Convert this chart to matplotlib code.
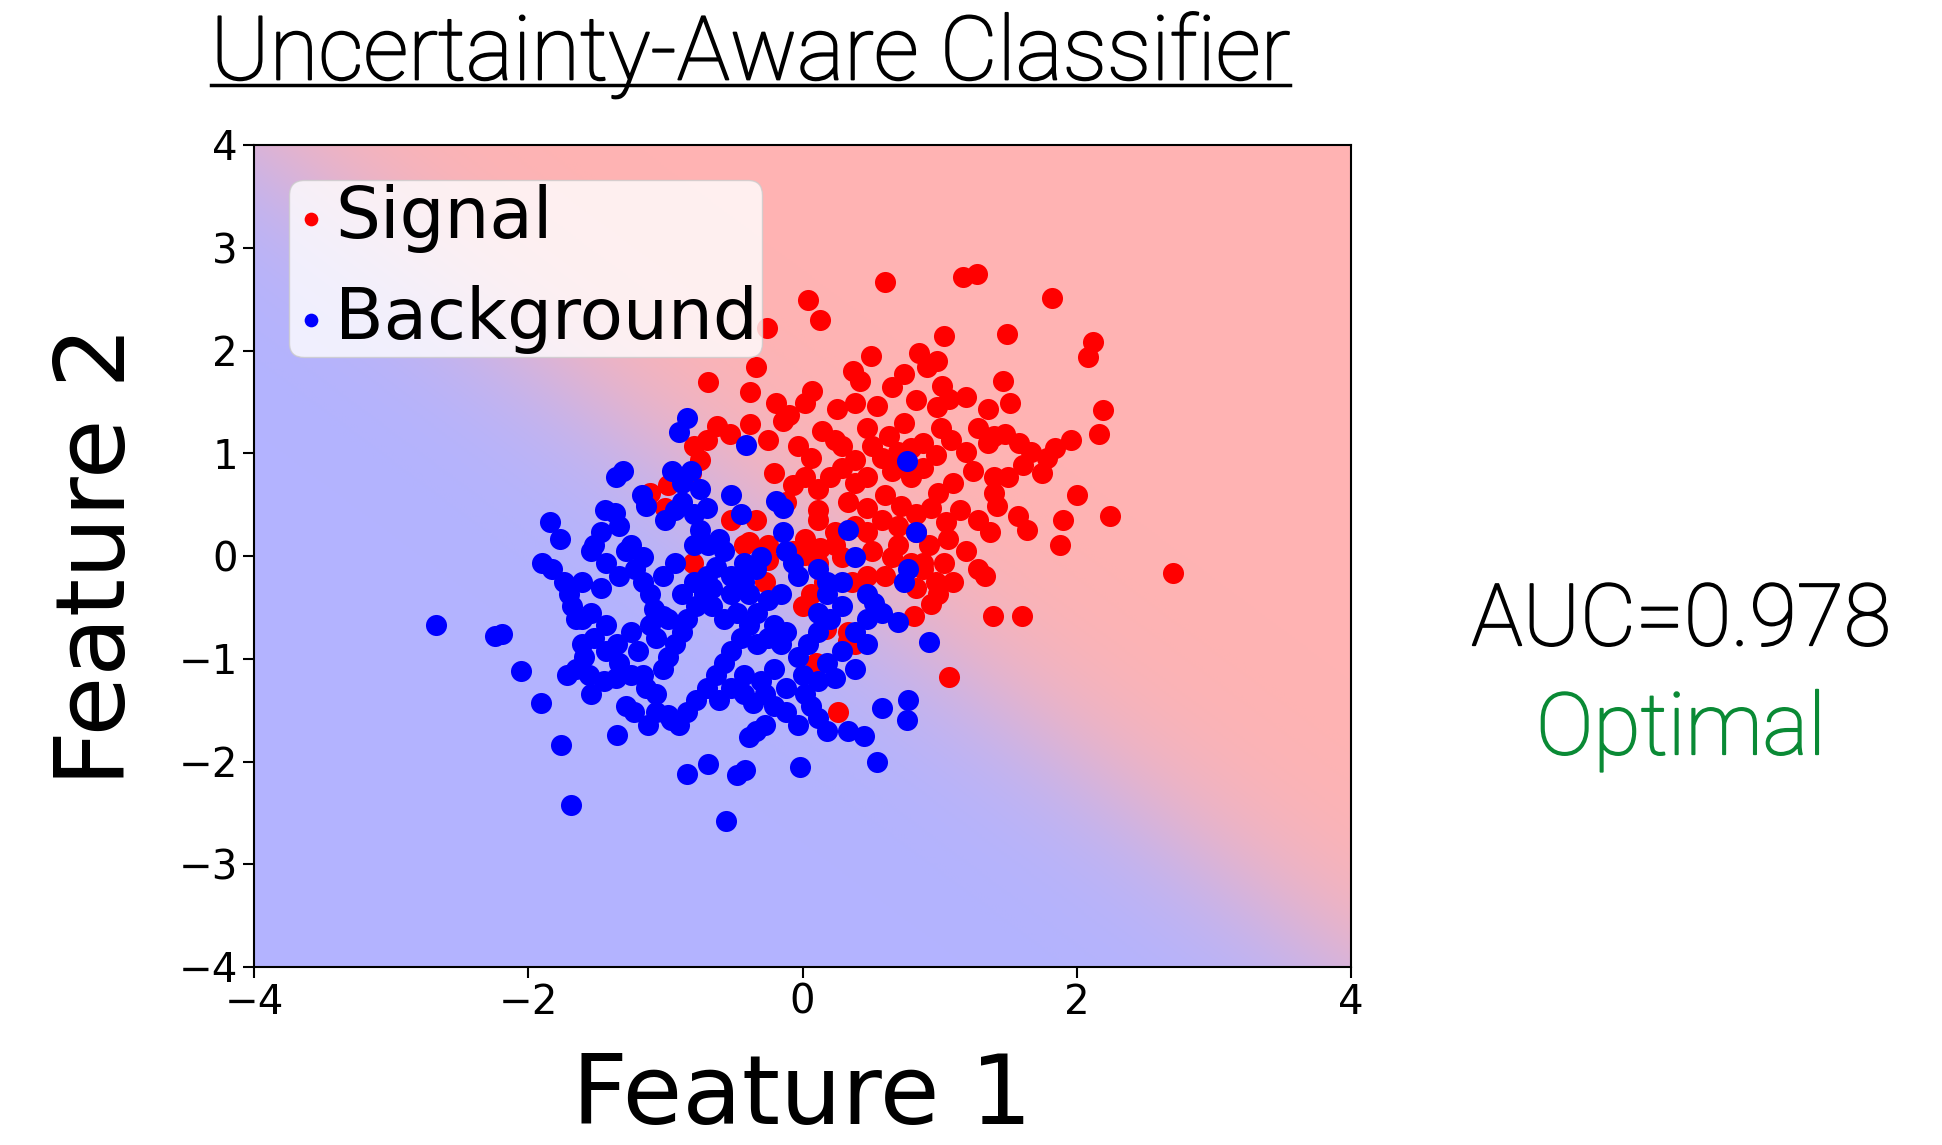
import numpy as np
import matplotlib
matplotlib.use("Agg")
import matplotlib.pyplot as plt
from matplotlib.colors import LinearSegmentedColormap
from matplotlib.lines import Line2D
import matplotlib.patheffects as pe

# ---- data ----
signal_x = [0.60, 1.17, 1.27, 0.04, 1.82, -0.26, 0.13, 1.03, 1.49, 2.12, 2.08, 0.50, 0.85, 0.98, 0.91,
            -0.69, -0.34, -0.38, 0.37, 0.42, 0.74, 0.65, 1.46, 1.02, 1.07, 1.19, -0.19, 0.02, 0.07, 0.25,
            0.38, 0.54, 0.83, 0.98, 1.51, 1.35, 2.19, -0.62, -0.53, -0.70, -0.38, -0.10, -0.14, 0.14, 0.24,
            0.47, 0.63, 0.74, 1.28, 1.40, 2.16, 1.96, -0.79, -0.75, -0.81, -0.98, -1.11, -1.14, -1.00, -0.25,
            -0.03, 0.06, 0.29, 0.38, 0.51, 0.58, 0.70, 0.88, 0.97, 1.08, 1.19, 1.35, 1.58, 1.67, 1.78,
            1.84, 1.61, 1.75, 1.50, 1.40, 1.57, 1.64, 1.90, 1.88, 2.00, 2.24, 1.24, 1.10, 0.99, 0.88,
            0.79, 0.65, 0.47, 0.38, 0.29, 0.20, 0.11, 0.02, -0.07, -0.21, -0.12, 0.11, 0.33, 0.47, 0.60,
            0.72, 0.83, 0.94, 1.05, 1.15, 1.28, 1.37, 0.83, 0.70, 0.58, 0.38, 0.24, 0.11, 0.02, -0.07,
            -0.25, -0.39, -0.52, 0.02, 0.11, 0.29, 0.51, 0.65, 0.79, 0.92, 1.06, 1.19, 1.28, 1.33, 1.10,
            0.97, 0.88, 1.03, 0.47, 0.60, 0.36, 0.16, 0.06, 0.00, 0.17, 0.33, 0.33, 0.38, 0.81, 1.39,
            1.60, 2.70, 1.07, 0.10, 0.26, -0.80, -0.34, -0.43, -0.27, -0.25, 0.13, 0.24, 0.47, 0.70,
            0.83, 0.99, 0.94, 0.88, 1.40, 1.42, 1.48, 1.01, 0.79]
signal_y = [2.67, 2.72, 2.74, 2.49, 2.51, 2.22, 2.30, 2.14, 2.16, 2.08, 1.94, 1.95, 1.98, 1.90, 1.84,
            1.69, 1.84, 1.60, 1.80, 1.70, 1.77, 1.64, 1.70, 1.65, 1.53, 1.55, 1.49, 1.49, 1.61, 1.43,
            1.49, 1.46, 1.52, 1.45, 1.49, 1.43, 1.42, 1.27, 1.19, 1.13, 1.28, 1.37, 1.31, 1.22, 1.13,
            1.25, 1.17, 1.29, 1.25, 1.17, 1.19, 1.13, 1.07, 0.93, 0.81, 0.69, 0.61, 0.53, 0.47, 1.13,
            1.07, 0.95, 1.07, 0.93, 1.07, 0.95, 1.01, 1.10, 0.98, 1.13, 1.01, 1.10, 1.10, 1.01, 0.95,
            1.05, 0.89, 0.81, 0.77, 0.61, 0.39, 0.25, 0.35, 0.11, 0.59, 0.39, 0.83, 0.71, 0.61, 0.86,
            0.77, 0.83, 0.77, 0.71, 0.86, 0.77, 0.65, 0.77, 0.69, 0.81, 0.53, 0.45, 0.53, 0.47, 0.59,
            0.49, 0.41, 0.47, 0.33, 0.45, 0.35, 0.23, 0.23, 0.29, 0.35, 0.29, 0.23, 0.35, 0.17, 0.05,
            0.11, 0.14, 0.35, 0.01, -0.07, -0.01, 0.05, -0.01, -0.07, 0.11, 0.17, 0.05, -0.13, -0.19, -0.25,
            -0.25, -0.13, -0.07, -0.19, -0.19, -0.25, -0.25, -0.37, -0.49, -0.71, -0.83, -0.74, -0.86, -0.58, -0.58,
            -0.58, -0.17, -1.18, -1.04, -1.52, -0.07, 0.35, 0.11, -0.25, -0.04, 0.08, 0.11, 0.23, 0.11,
            -0.31, -0.37, -0.47, -0.07, 0.77, 0.49, 1.19, 1.25, 1.05]

background_x = [-2.67, -2.24, -2.19, -2.05, -1.91, -1.76, -1.69, -1.84, -1.77, -1.90, -1.83, -1.74, -1.70, -1.68,
                -1.61, -1.54, -1.43, -1.35, -1.43, -1.54, -1.47, -1.44, -1.37, -1.34, -1.31, -1.36, -1.17, -1.29,
                -1.22, -1.16, -1.11, -1.08, -1.02, -1.11, -1.25, -1.20, -1.16, -1.14, -1.07, -1.02, -0.98, -0.93,
                -0.88, -0.84, -0.78, -0.72, -0.66, -0.70, -0.63, -0.57, -0.61, -0.69, -0.75, -0.79, -0.88, -0.93,
                -1.00, -0.81, -0.90, -0.84, -0.41, -0.75, -0.70, -0.52, -0.45, -0.14, -0.19, -0.14, -0.12, -0.07,
                -0.03, 0.11, 0.18, 0.38, 0.33, 0.76, 0.83, 0.77, 0.74, 0.70, 0.52, 0.47, 0.29, 0.20, 0.11,
                0.04, -0.03, 0.00, 0.11, 0.24, 0.38, 0.47, 0.29, 0.18, -0.16, -0.25, -0.33, -0.39, -0.45,
                -0.52, -0.57, -0.63, -0.70, -0.78, -0.84, -0.90, -0.98, -1.07, -1.13, -1.35, -1.54, -1.56, -1.65,
                -1.61, -1.59, -1.72, -1.45, -1.36, -1.29, -1.23, -0.39, -0.34, -0.27, -0.21, -0.12, -0.03, 0.11,
                0.18, 0.33, 0.45, 0.58, 0.54, 0.77, 0.76, 0.92, -0.84, -0.69, -0.48, -0.42, -0.02, -0.56,
                -0.96, -1.07, -0.98, -0.88, -0.79, -0.66, -0.52, -0.43, -0.34, -0.30, -0.43, -0.52, -0.57, -0.48,
                -0.39, -0.33, -0.25, -0.21, -0.16, -0.12, -0.21, -0.30, -0.43, -0.52, -0.61, -0.43, -0.36, -0.27,
                -0.12, 0.02, 0.06, 0.11, 0.18, 0.29, 0.38, 0.47, 0.58, -0.79, -0.93, -1.02, -1.16, -1.25,
                -1.34, -1.47, -1.61, -1.65, -1.52, -1.43, -1.34, -1.25, -0.95, -0.88, -1.14, -1.52]
background_y = [-0.67, -0.78, -0.76, -1.12, -1.43, -1.84, -2.42, 0.33, 0.17, -0.07, -0.13, -0.25, -0.37, -0.49,
                -0.61, -0.55, -0.67, -0.86, -0.07, 0.05, 0.23, 0.45, 0.42, 0.29, 0.83, 0.77, 0.59, 0.05,
                -0.13, -0.25, -0.37, -0.52, -0.58, -0.67, -0.74, -0.92, -1.16, -1.28, -1.34, -1.10, -0.98, -0.86,
                -0.74, -0.61, -0.49, -0.37, -0.31, -0.19, -0.11, 0.05, 0.17, 0.11, 0.25, 0.41, 0.53, 0.45,
                0.35, 0.83, 1.21, 1.34, 1.08, 0.65, 0.47, 0.59, 0.41, 0.47, 0.54, 0.23, 0.05, -0.07,
                -0.19, -0.13, -0.25, -0.01, 0.25, 0.92, 0.23, -0.13, -0.25, -0.64, -0.46, -0.37, -0.49, -0.61, -0.74,
                -0.86, -0.98, -1.16, -1.22, -1.19, -1.10, -0.86, -0.92, -1.04, -0.37, -0.43, -0.55, -0.67, -0.80,
                -0.92, -1.04, -1.16, -1.28, -1.40, -1.52, -1.64, -1.55, -1.52, -1.64, -1.74, -1.34, -1.16, -1.10,
                -0.86, -0.98, -1.16, -1.22, -1.19, -1.46, -1.52, -1.76, -1.70, -1.64, -1.46, -1.52, -1.64, -1.58,
                -1.70, -1.70, -1.75, -1.48, -2.00, -1.40, -1.60, -0.84, -2.12, -2.02, -2.13, -2.08, -2.05, -2.58,
                -1.60, -0.80, -0.61, -0.37, -0.25, -0.49, -0.37, -0.25, -0.13, -0.01, -0.07, -0.19, -0.61, -0.55,
                -0.37, -0.86, -0.80, -0.67, -0.86, -0.74, -1.10, -1.22, -1.16, -1.28, -1.40, -1.34, -1.43, -1.34,
                -1.28, -1.34, -1.46, -0.55, -0.37, -0.25, -0.74, -0.61, -0.55, 0.11, -0.07, -0.19, -0.01, 0.11,
                -0.19, -0.31, -0.25, -0.61, -0.80, -0.92, -1.04, -1.16, 0.83, 0.71, 0.49, 0.11]

xticks = [-4, -2, 0, 2, 4]
yticks = [-4, -3, -2, -1, 0, 1, 2, 3, 4]
title_text = "Uncertainty-Aware Classifier"
auc_text = "AUC=0.978"
verdict_text = "Optimal"

# decision-surface parameters (logistic in x+y)
boundary_slope = 2.0

# ---- figure ----
W, H = 1942, 1145
fig = plt.figure(figsize=(W / 100, H / 100), dpi=100)
ax = fig.add_axes([254 / W, 1 - 967 / H, 1097 / W, 822 / H])

gx, gy = np.meshgrid(np.linspace(-4, 4, 400), np.linspace(-4, 4, 400))
prob = 1.0 / (1.0 + np.exp(-boundary_slope * (gx + gy)))
cmap = LinearSegmentedColormap.from_list("br", ["#0000ff", "#ff0000"])
ax.imshow(prob, extent=[-4, 4, -4, 4], origin="lower", cmap=cmap, alpha=0.3,
          aspect="auto", vmin=0, vmax=1, zorder=0, interpolation="bilinear")

ax.scatter(signal_x, signal_y, s=230, c="#ff0000", label="Signal", zorder=2, linewidths=0)
ax.scatter(background_x, background_y, s=230, c="#0000ff", label="Background", zorder=2, linewidths=0)

ax.set_xlim(-4, 4)
ax.set_ylim(-4, 4)
ax.set_xticks(xticks)
ax.set_yticks(yticks)
ax.tick_params(labelsize=29, length=8, width=1.5)
for sp in ax.spines.values():
    sp.set_linewidth(1.5)
ax.set_xlabel("Feature 1", fontsize=70, labelpad=20)
ax.set_ylabel("Feature 2", fontsize=70, labelpad=24)

leg = ax.legend(loc="upper left", fontsize=51, markerscale=0.65, handletextpad=0.1,
                handlelength=0.5, borderpad=0.05, labelspacing=0.45, borderaxespad=0.5,
                framealpha=0.8)

# title (underlined)
title_font = ["Roboto", "DejaVu Sans"]
fig.text(750 / W, 1 - 55 / H, title_text, ha="center", va="center", fontsize=64,
         family=title_font, fontweight="light",
         path_effects=[pe.withStroke(linewidth=1.3, foreground="black")])
fig.add_artist(Line2D([211 / W, 1290 / W], [1 - 85 / H, 1 - 85 / H], color="black", lw=2.5))

fig.text(1681 / W, 1 - 622 / H, auc_text, ha="center", va="center", fontsize=62,
         family=title_font, fontweight="light",
         path_effects=[pe.withStroke(linewidth=1.3, foreground="black")])
fig.text(1681 / W, 1 - 731 / H, verdict_text, ha="center", va="center", fontsize=62,
         family=title_font, fontweight="light", color="#0a8a35",
         path_effects=[pe.withStroke(linewidth=1.3, foreground="#0a8a35")])

fig.savefig("out.png", dpi=100)
